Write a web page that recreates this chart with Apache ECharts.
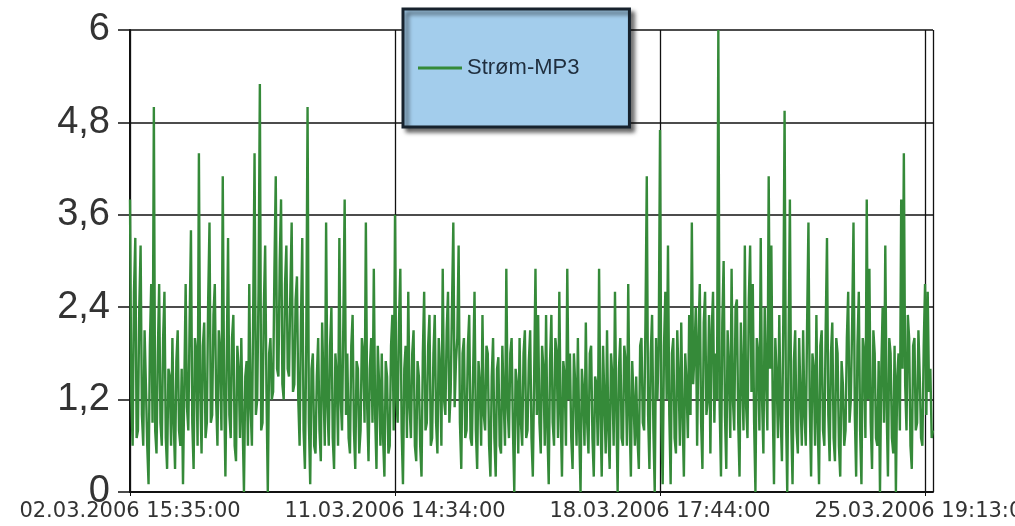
<!DOCTYPE html>
<html>
<head>
<meta charset="utf-8">
<script src="https://cdn.jsdelivr.net/npm/echarts@6/dist/echarts.min.js"></script>
<style>
html,body{margin:0;padding:0;background:#fff;overflow:hidden;}
#chart{width:1015px;height:526px;}
</style>
</head>
<body>
<div id="chart"></div>
<script>
const seriesName = 'Strøm-MP3';
const xTickLabels = ['02.03.2006 15:35:00', '11.03.2006 14:34:00', '18.03.2006 17:44:00', '25.03.2006 19:13:00'];
const samplesPerTick = 200;
const yTicks = [0, 1.2, 2.4, 3.6, 4.8, 6];

const current = [
  3.8,1.2, 0.6,2.6, 3.3,0.7, 0.8,2.4, 3.2,1.0, 0.6,2.1, 1.4,0.6, 0.1,1.9, 2.7,0.9, 5.0,0.8,
  0.5,1.8, 2.7,0.9, 0.6,2.0, 2.6,0.7, 0.3,1.6, 1.5,0.6, 2.0,0.9, 0.3,1.7, 2.1,0.8, 0.6,1.6,
  0.1,1.4, 2.7,1.1, 0.8,2.2, 3.4,0.9, 0.3,2.0, 1.8,0.6, 4.4,1.3, 0.5,1.9, 2.2,0.7, 0.9,2.5,
  3.5,0.9, 1.0,2.3, 2.7,1.2, 0.6,2.1, 1.8,0.8, 4.1,1.4, 0.2,1.7, 3.3,1.0, 0.7,2.0, 2.3,0.6,
  0.4,1.9, 1.6,0.7, 2.0,0.9, 0.0,1.5, 1.7,0.6, 2.7,1.1, 0.6,2.4, 4.4,1.0, 1.2,2.6, 5.3,0.8,
  0.9,2.4, 3.2,1.3, 0.0,1.8, 2.0,1.2, 1.3,2.9, 4.1,1.6, 1.5,3.0, 3.8,1.4, 1.2,2.7, 3.2,1.6,
  1.5,2.6, 3.5,1.3, 1.4,2.5, 2.8,1.2, 0.6,2.2, 3.3,0.8, 0.3,1.9, 5.0,0.9, 0.1,1.6, 1.8,0.6,
  0.5,1.5, 2.0,0.8, 0.4,2.2, 1.4,0.6, 3.5,1.1, 0.6,1.9, 2.4,0.7, 0.3,1.8, 1.5,0.6, 3.3,1.2,
  0.8,2.2, 3.8,1.0, 1.8,0.7, 0.5,1.9, 2.3,0.8, 0.3,1.7, 1.6,0.5, 0.8,2.0, 1.8,0.9, 3.5,1.1,
  0.4,1.6, 2.0,0.9, 2.9,1.0, 0.3,1.9, 1.4,0.6, 1.8,0.7, 0.2,1.7, 1.5,0.5, 0.6,1.9, 2.3,0.8,
  3.6,1.2, 0.9,2.2, 2.9,0.8, 0.1,1.6, 1.9,0.7, 2.6,1.1, 0.7,1.8, 2.1,0.6, 0.4,1.7, 1.5,0.6,
  0.2,1.8, 2.6,0.8, 0.9,1.9, 2.3,0.6, 0.7,1.8, 2.3,0.9, 0.5,2.0, 1.6,0.6, 2.9,1.2, 1.0,2.1,
  2.6,0.9, 1.3,2.4, 3.5,1.1, 1.7,2.0, 3.2,0.9, 0.3,1.8, 2.0,0.7, 0.8,1.9, 2.3,0.7, 0.6,1.6,
  2.6,0.8, 0.3,1.7, 1.4,0.6, 2.3,1.0, 0.8,1.9, 1.8,0.6, 0.2,1.5, 2.0,0.7, 0.2,1.6, 1.75,0.6,
  0.5,1.9, 1.2,0.6, 2.9,1.1, 0.7,1.8, 2.0,0.8, 0.0,1.6, 1.4,0.5, 2.0,0.9, 0.6,1.8, 2.1,0.7,
  0.8,1.7, 2.1,0.7, 0.2,1.5, 2.9,1.0, 2.3,0.9, 0.5,1.9, 1.6,0.6, 2.3,0.8, 0.1,1.7, 2.3,0.9,
  0.6,2.0, 1.8,0.7, 2.6,1.0, 0.2,1.7, 1.5,0.6, 2.9,1.2, 1.8,0.7, 0.3,1.8, 1.4,0.6, 2.0,0.8,
  0.0,1.6, 1.3,0.6, 2.2,0.9, 0.5,1.8, 1.9,0.7, 0.2,1.5, 1.4,0.6, 2.9,1.0, 0.2,1.9, 1.2,0.5,
  2.1,0.8, 0.3,1.8, 1.5,0.6, 2.6,1.1, 0.0,1.6, 2.0,0.7, 0.6,1.9, 1.7,0.6, 2.7,1.0, 0.2,1.7,
  1.2,0.6, 1.5,0.7, 0.3,1.9, 2.0,0.9, 0.8,2.2, 4.1,1.0, 0.3,1.8, 2.3,0.8, 0.0,2.0, 1.2,1.9,
  4.7,0.9, 0.1,1.9, 2.6,1.2, 3.2,1.0, 0.1,1.8, 2.0,0.7, 0.5,2.1, 1.5,0.6, 2.2,1.0, 0.2,1.8,
  1.4,0.7, 2.3,1.0, 3.5,1.4, 1.8,2.4, 0.6,2.0, 2.7,0.9, 0.3,2.2, 2.6,1.0, 1.2,2.3, 0.5,2.1,
  2.6,0.9, 1.8,1.2, 6.0,1.1, 0.2,2.2, 3.0,1.0, 0.3,2.1, 1.6,0.7, 2.9,1.2, 0.8,2.4, 2.5,0.9,
  0.2,2.2, 1.5,0.8, 3.2,1.1, 0.7,2.5, 3.2,1.3, 2.7,0.9, 0.0,2.0, 1.8,0.8, 3.3,1.2, 0.5,2.4,
  1.5,0.8, 4.1,1.6, 3.2,1.2, 0.1,2.0, 1.5,0.7, 2.3,1.0, 0.4,2.2, 4.95,1.1, 0.0,1.9, 3.8,0.9,
  0.1,1.7, 2.1,0.8, 0.5,2.0, 1.2,0.6, 2.1,1.0, 0.6,2.2, 3.5,1.1, 0.2,1.8, 1.6,0.6, 2.3,0.9,
  0.1,1.9, 2.1,0.8, 0.6,2.1, 3.3,1.0, 0.4,1.8, 2.2,0.7, 0.4,2.0, 1.8,0.6, 0.2,1.7, 1.4,0.6,
  0.8,2.0, 2.6,0.9, 1.2,2.2, 3.5,1.0, 0.2,1.9, 2.6,0.8, 0.1,2.0, 1.8,0.7, 3.8,1.2, 2.9,0.9,
  0.3,2.1, 1.8,0.7, 0.6,1.7, 0.0,1.6, 2.4,0.9, 3.2,1.1, 0.2,2.0, 1.8,0.7, 0.5,1.9, 0.0,1.5,
  1.8,0.8, 3.8,1.6, 4.4,1.4, 0.8,2.3, 2.0,0.6, 0.3,1.9, 2.0,0.8, 0.9,2.1, 1.5,0.7, 0.6,1.9,
  2.7,1.0, 2.6,1.3, 1.6,0.7, 0.8
];

const chart = echarts.init(document.getElementById('chart'), null, {renderer: 'canvas'});
const font = 'Liberation Sans, Arial, sans-serif';
const lastIndex = current.length - 1;
const green = '#358a39';

chart.setOption({
  animation: false,
  backgroundColor: '#ffffff',
  grid: {left: 130, right: 82, top: 30, bottom: 34, containLabel: false, outerBoundsMode: 'none'},
  legend: {
    data: [{name: seriesName, icon: 'rect'}],
    left: 403,
    top: 9,
    padding: [48, 50, 48, 15],
    itemWidth: 44,
    itemHeight: 3,
    itemGap: 0,
    backgroundColor: '#a3cdec',
    borderColor: '#17222d',
    borderWidth: 3,
    shadowColor: 'rgba(0,0,0,0.55)',
    shadowBlur: 4,
    shadowOffsetX: 4,
    shadowOffsetY: 4,
    itemStyle: {color: green},
    textStyle: {fontFamily: font, fontSize: 22, color: '#1f2e3e'}
  },
  xAxis: {
    type: 'value',
    min: 0,
    max: lastIndex,
    interval: samplesPerTick,
    axisLine: {show: true, lineStyle: {color: '#111', width: 2}},
    axisTick: {show: true, length: 4, lineStyle: {color: '#111'}},
    splitLine: {show: true, lineStyle: {color: '#111', width: 1.3}},
    axisLabel: {
      margin: 9,
      fontFamily: 'DejaVu Sans, sans-serif',
      fontSize: 21,
      color: '#333',
      showMaxLabel: false,
      formatter: function (v) {
        const k = v / samplesPerTick;
        return Number.isInteger(k) && xTickLabels[k] ? xTickLabels[k] : '';
      }
    }
  },
  yAxis: {
    type: 'value',
    min: yTicks[0],
    max: yTicks[yTicks.length - 1],
    interval: yTicks[1] - yTicks[0],
    axisLine: {show: true, lineStyle: {color: '#111', width: 2}},
    axisTick: {show: true, length: 12, lineStyle: {color: '#111', width: 1.5}},
    splitLine: {show: true, lineStyle: {color: '#111', width: 1.5}},
    axisLabel: {
      margin: 20,
      fontFamily: font,
      fontSize: 38,
      color: '#333',
      formatter: function (v) {
        return String(Math.round(v * 10) / 10).replace('.', ',');
      }
    }
  },
  series: [{
    name: seriesName,
    type: 'line',
    data: current.map((v, i) => [i, v]),
    showSymbol: false,
    symbol: 'none',
    lineStyle: {color: green, width: 2.4},
    itemStyle: {color: green}
  }]
});
</script>
</body>
</html>
